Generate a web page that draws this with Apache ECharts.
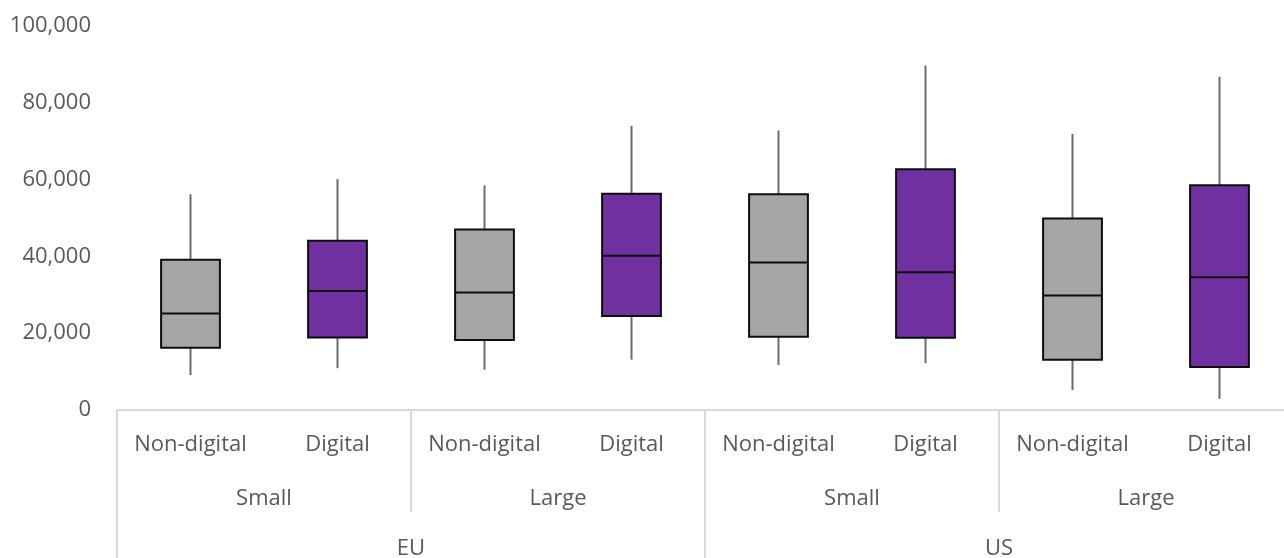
<!DOCTYPE html>
<html>
<head>
<meta charset="utf-8">
<script src="https://cdn.jsdelivr.net/npm/echarts@6/dist/echarts.min.js"></script>
<style>
  html, body { margin: 0; padding: 0; background: #fff; }
  #main { width: 1284px; height: 558px; }
</style>
</head>
<body>
<div id="main"></div>
<script>
var regions = ['EU', 'US']
var sizes = ['Small', 'Large', 'Small', 'Large']
var types = ['Non-digital', 'Digital', 'Non-digital', 'Digital', 'Non-digital', 'Digital', 'Non-digital', 'Digital']

var lows = [9100, 10900, 10500, 13100, 11700, 12200, 5200, 2900]
var q1s = [16200, 18900, 18200, 24500, 19100, 18800, 13100, 11200]
var medians = [25100, 31000, 30600, 40200, 38400, 35900, 29800, 34600]
var q3s = [39100, 44100, 47000, 56300, 56200, 62700, 49900, 58500]
var highs = [56200, 60100, 58500, 74000, 72800, 89700, 71900, 86800]

var yTicks = [0, 20000, 40000, 60000, 80000, 100000]

var fillGray = '#a6a6a6'
var fillPurple = '#7030a0'
var textColor = '#595959'
var lineColor = '#d9d9d9'
var font = 'Open Sans'

var boxData = types.map(function (t, i) {
  return [i, lows[i], q1s[i], medians[i], q3s[i], highs[i]]
})

var myChart = echarts.init(document.getElementById('main'))

myChart.setOption({
  animation: false,
  grid: { left: 117, width: 1176, top: 26, bottom: 148, outerBoundsMode: 'none', containLabel: false },
  xAxis: [{
    type: 'category',
    data: types,
    axisLine: { lineStyle: { color: lineColor, width: 2 } },
    axisTick: { show: false },
    axisLabel: { color: textColor, fontFamily: font, fontSize: 22, margin: 24, interval: 0 }
  }, {
    type: 'category',
    data: sizes,
    position: 'bottom',
    axisLine: { show: false },
    axisTick: { show: true, length: 102, lineStyle: { color: lineColor, width: 2 } },
    axisLabel: { color: textColor, fontFamily: font, fontSize: 22, margin: 78, interval: 0 }
  }, {
    type: 'category',
    data: regions,
    position: 'bottom',
    axisLine: { show: false },
    axisTick: { show: true, length: 148, lineStyle: { color: lineColor, width: 2 } },
    axisLabel: { color: textColor, fontFamily: font, fontSize: 22, margin: 128, interval: 0 }
  }],
  yAxis: {
    type: 'value',
    min: yTicks[0],
    max: yTicks[yTicks.length - 1],
    interval: 20000,
    axisLine: { show: false },
    axisTick: { show: false },
    splitLine: { show: false },
    axisLabel: {
      color: textColor, fontFamily: font, fontSize: 22, margin: 26,
      formatter: function (v) { return v.toLocaleString('en-US') }
    }
  },
  series: [{
    type: 'custom',
    xAxisIndex: 0,
    data: boxData,
    encode: { x: 0, y: [1, 2, 3, 4, 5] },
    renderItem: function (params, api) {
      var i = api.value(0)
      var lo = api.coord([i, api.value(1)])
      var q1 = api.coord([i, api.value(2)])
      var md = api.coord([i, api.value(3)])
      var q3 = api.coord([i, api.value(4)])
      var hi = api.coord([i, api.value(5)])
      var w = api.size([1, 0])[0] * 0.4
      var x = lo[0]
      var fill = i % 2 === 0 ? fillGray : fillPurple
      var whisker = { stroke: '#6b6b6b', lineWidth: 2 }
      return {
        type: 'group',
        children: [
          { type: 'line', shape: { x1: x, y1: hi[1], x2: x, y2: q3[1] }, style: whisker },
          { type: 'line', shape: { x1: x, y1: q1[1], x2: x, y2: lo[1] }, style: whisker },
          { type: 'rect', shape: { x: x - w / 2, y: q3[1], width: w, height: q1[1] - q3[1] },
            style: { fill: fill, stroke: '#0d0d0d', lineWidth: 2 } },
          { type: 'line', shape: { x1: x - w / 2, y1: md[1], x2: x + w / 2, y2: md[1] },
            style: { stroke: '#0d0d0d', lineWidth: 2 } }
        ]
      }
    }
  }]
})
</script>
</body>
</html>
